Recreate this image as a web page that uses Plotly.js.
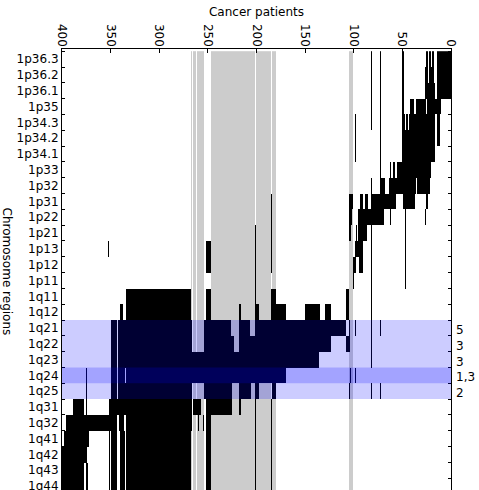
<!DOCTYPE html>
<html><head><meta charset="utf-8">
<script src="https://cdn.plot.ly/plotly-3.0.1.min.js"></script>
<style>html,body{margin:0;padding:0;overflow:hidden;background:#fff;width:479px;height:490px}</style>
</head><body><div id="chart" style="width:479px;height:494px"></div>
<script>
// Chromosome regions (rows, top to bottom)
const regions = ['1p36.3','1p36.2','1p36.1','1p35','1p34.3','1p34.2','1p34.1','1p33','1p32','1p31',
  '1p22','1p21','1p13','1p12','1p11','1q11','1q12','1q21','1q22','1q23','1q24','1q25',
  '1q31','1q32','1q41','1q42','1q43','1q44'];
// Number of patients (columns)
const nPatients = 401;
// Altered patients per region: runs [first, last] of patient indices
const altered = [
  [[0,14],[18,19],[21,22],[24,25],[49,50],[73,73],[82,82]],
  [[0,14],[18,22],[24,26],[49,50],[73,73],[82,82]],
  [[0,14],[17,26],[49,50],[73,73],[82,82]],
  [[11,24],[26,35],[39,42],[49,50],[73,73],[82,82]],
  [[12,14],[17,43],[45,46],[48,50],[73,73],[82,82],[98,98]],
  [[12,14],[17,50],[73,73],[98,98]],
  [[17,50],[73,73],[98,98]],
  [[21,55],[58,59],[62,62],[73,73]],
  [[22,34],[36,63],[68,73],[82,82]],
  [[24,25],[36,36],[38,49],[57,82],[86,88],[91,93],[101,104],[185,185]],
  [[26,26],[36,36],[47,47],[62,62],[69,82],[83,95],[102,104],[185,185]],
  [[36,36],[47,47],[82,82],[87,95],[97,97],[103,104],[108,108],[185,185],[201,201]],
  [[47,47],[82,82],[91,98],[185,185],[201,201],[247,251],[352,352]],
  [[47,47],[82,82],[91,94],[98,100],[185,185],[201,201],[247,251]],
  [[47,47],[82,82],[100,100],[201,201]],
  [[82,82],[105,107],[180,185],[201,201],[247,251],[268,334]],
  [[82,82],[105,107],[124,129],[135,150],[170,185],[198,201],[216,217],[247,251],[268,334],[338,340]],
  [[73,73],[82,82],[98,98],[104,104],[109,201],[207,218],[227,254],[267,342],[344,349]],
  [[82,82],[104,108],[124,218],[224,254],[267,342],[344,349]],
  [[82,82],[108,108],[136,342],[344,349]],
  [[98,98],[103,103],[108,108],[170,334],[336,342],[344,349],[375,375]],
  [[73,73],[82,82],[104,104],[180,184],[198,201],[206,218],[226,254],[267,342],[344,349],[375,375]],
  [[185,185],[201,201],[216,217],[226,251],[258,265],[267,351],[375,375],[378,388]],
  [[185,185],[201,201],[247,251],[255,255],[260,260],[267,334],[337,341],[344,395]],
  [[185,185],[201,201],[247,251],[268,334],[336,340],[344,349],[351,351],[373,397]],
  [[185,185],[201,201],[247,251],[268,334],[336,340],[344,349],[351,351],[375,400]],
  [[185,185],[201,201],[247,251],[268,334],[336,340],[344,349],[351,351],[374,375],[378,400]],
  [[185,185],[201,201],[247,251],[268,334],[336,340],[344,349],[351,351],[374,375],[378,400]]
];
// Patients with missing data (grey columns)
const missing = [[101,104],[108,108],[180,184],[186,200],[202,246],[254,261],[263,265],[267,267]];
// Highlighted minimal common regions
const mcrBands = [['1q21','1q25'],['1q24','1q24']];
const mcrRows = ['1q21','1q22','1q23','1q24','1q25'];
const mcrLabels = ['5','3','3','1,3','2'];
const xTicks = [0,50,100,150,200,250,300,350,400];

const patients = [];
for (let p = 0; p < nPatients; p++) patients.push(p);
const z = regions.map((r, i) => {
  const row = new Array(nPatients).fill(0);
  missing.forEach(([a,b]) => { for (let p = a; p <= b; p++) row[p] = 1; });
  altered[i].forEach(([a,b]) => { for (let p = a; p <= b; p++) row[p] = 2; });
  return row;
});

const FONT = 'DejaVu Sans';
const trace = {
  type: 'heatmap', x: patients, y: regions, z: z,
  zmin: 0, zmax: 2, showscale: false, hoverinfo: 'skip',
  colorscale: [[0,'#ffffff'],[0.25,'#ffffff'],[0.25,'#cccccc'],[0.75,'#cccccc'],[0.75,'#000000'],[1,'#000000']]
};

const shapes = mcrBands.map(([a,b]) => ({
  type: 'rect', xref: 'paper', x0: 0, x1: 1, yref: 'y',
  y0: regions.indexOf(a) - 0.5, y1: regions.indexOf(b) + 0.5,
  fillcolor: 'rgba(0,0,255,0.2)', line: {width: 0}, layer: 'above'
}));

const annotations = mcrRows.map((r, i) => ({
  xref: 'paper', x: 1, xanchor: 'left', xshift: 3, yref: 'y', y: r, yshift: -2,
  text: mcrLabels[i], showarrow: false, font: {family: FONT, size: 12, color: '#000'}
}));
annotations.push({
  xref: 'paper', x: -0.139, xanchor: 'center', yref: 'paper', y: 0.5, yanchor: 'middle',
  text: 'Chromosome regions', textangle: 90, showarrow: false,
  font: {family: FONT, size: 12, color: '#000'}
});

const layout = {
  width: 479, height: 494,
  margin: {l: 62, r: 28, t: 49, b: 0, pad: 0},
  paper_bgcolor: '#fff', plot_bgcolor: '#fff',
  font: {family: FONT, size: 12, color: '#000'},
  title: {text: 'Cancer patients', font: {family: FONT, size: 12, color: '#000'},
    xref: 'paper', x: 0.5, xanchor: 'center', yref: 'container', y: 1 - 12/494, yanchor: 'middle'},
  xaxis: {
    range: [400, 0], side: 'top', tickvals: xTicks, ticktext: xTicks.map(String), tickangle: 90,
    ticks: 'inside', ticklen: 4, tickcolor: '#000', showline: true, linecolor: '#000', linewidth: 1,
    ticklabelstandoff: -3,
    mirror: 'ticks', showgrid: false, zeroline: false, tickfont: {family: FONT, size: 12, color: '#000'}
  },
  yaxis: {
    type: 'category', categoryorder: 'array', categoryarray: regions,
    range: [27.5, -0.64], tickson: 'boundaries',
    ticks: 'inside', ticklen: 3, tickcolor: '#000', showline: true, linecolor: '#000', linewidth: 1,
    mirror: 'ticks', showgrid: false, zeroline: false, tickfont: {family: FONT, size: 12, color: '#000'}
  },
  shapes: shapes, annotations: annotations, showlegend: false
};

Plotly.newPlot('chart', [trace], layout, {staticPlot: true, displayModeBar: false});
</script></body></html>
